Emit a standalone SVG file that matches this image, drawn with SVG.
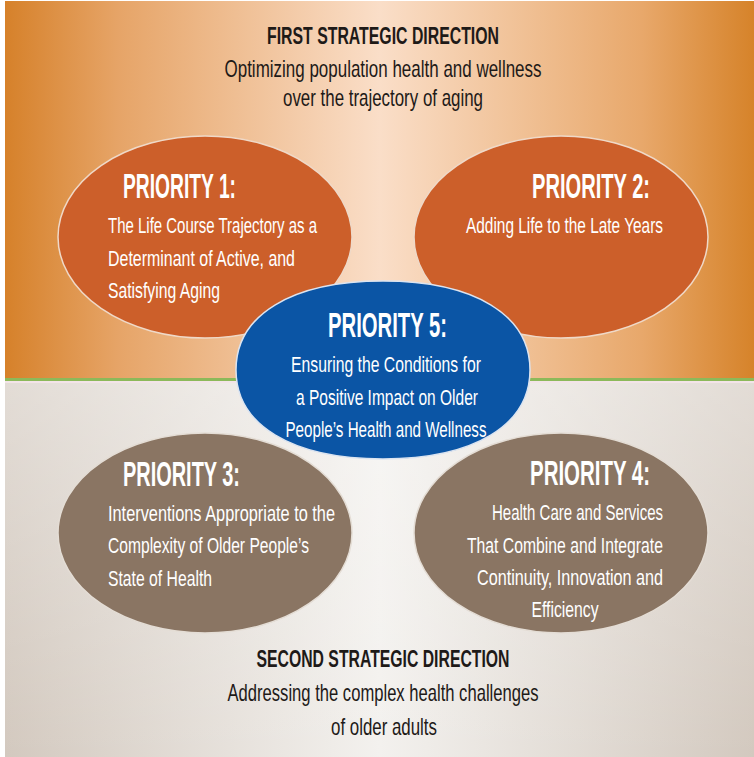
<svg xmlns="http://www.w3.org/2000/svg" width="754" height="757" viewBox="0 0 754 757">
<defs>
<linearGradient id="topG" x1="0" y1="0" x2="1" y2="0">
<stop offset="0" stop-color="#D6812A"/>
<stop offset="0.15" stop-color="#E6A467"/>
<stop offset="0.5" stop-color="#FADEC8"/>
<stop offset="0.85" stop-color="#E8A86B"/>
<stop offset="1" stop-color="#D6832A"/>
</linearGradient>
<linearGradient id="botG" x1="0" y1="0" x2="1" y2="0">
<stop offset="0" stop-color="#D3C9BF"/>
<stop offset="0.5" stop-color="#F3F1EE"/>
<stop offset="1" stop-color="#D3C9BF"/>
</linearGradient>
<linearGradient id="botV" x1="0" y1="0" x2="0" y2="1">
<stop offset="0" stop-color="#FFFFFF" stop-opacity="0.35"/>
<stop offset="1" stop-color="#FFFFFF" stop-opacity="0"/>
</linearGradient>
<style>
.hd{font-family:"Liberation Sans",Arial,sans-serif;font-weight:bold;font-size:23px;fill:#1E1A18}
.sub{font-family:"Liberation Sans",Arial,sans-serif;font-size:24px;fill:#1E1A18}
.ttl{font-family:"Liberation Sans",Arial,sans-serif;font-weight:bold;font-size:35px;fill:#FFFFFF}
.bd{font-family:"Liberation Sans",Arial,sans-serif;font-size:22.5px;fill:#FFFFFF}
.or{fill:#CC5F2A;stroke:#EFD9C8;stroke-width:1.5}
.bl{fill:#0B55A5;stroke:#DCE4F0;stroke-width:1.5}
.br{fill:#8A7563;stroke:#E4DDD5;stroke-width:1.5}
</style>
</defs>
<rect x="0" y="0" width="754" height="757" fill="#FFFFFF"/>
<rect x="5" y="1" width="749" height="378" fill="url(#topG)"/>
<rect x="5" y="383" width="749" height="374" fill="url(#botG)"/>
<rect x="5" y="383" width="749" height="374" fill="url(#botV)"/>
<rect x="5" y="378" width="749" height="3" fill="#8CB95A"/>
<rect x="5" y="381" width="749" height="2" fill="#F3E4E8"/>

<g id="direction1">
<text class="hd" x="383" y="44" text-anchor="middle" textLength="232" lengthAdjust="spacingAndGlyphs">FIRST STRATEGIC DIRECTION</text>
<text class="sub" x="383" y="77" text-anchor="middle" textLength="317" lengthAdjust="spacingAndGlyphs">Optimizing population health and wellness</text>
<text class="sub" x="383" y="106" text-anchor="middle" textLength="200" lengthAdjust="spacingAndGlyphs">over the trajectory of aging</text>
</g>

<g id="priority1">
<ellipse class="or" cx="205" cy="237" rx="147" ry="101"/>
<text class="ttl" x="123" y="198" textLength="113" lengthAdjust="spacingAndGlyphs">PRIORITY 1:</text>
<text class="bd" x="108" y="233" textLength="209" lengthAdjust="spacingAndGlyphs">The Life Course Trajectory as a</text>
<text class="bd" x="108" y="266" textLength="187" lengthAdjust="spacingAndGlyphs">Determinant of Active, and</text>
<text class="bd" x="108" y="298" textLength="112" lengthAdjust="spacingAndGlyphs">Satisfying Aging</text>
</g>

<g id="priority2">
<ellipse class="or" cx="561" cy="237" rx="147" ry="101"/>
<text class="ttl" x="532" y="198" textLength="118" lengthAdjust="spacingAndGlyphs">PRIORITY 2:</text>
<text class="bd" x="466" y="233" textLength="197" lengthAdjust="spacingAndGlyphs">Adding Life to the Late Years</text>
</g>

<g id="priority3">
<ellipse class="br" cx="205" cy="533" rx="147" ry="100"/>
<text class="ttl" x="123" y="486" textLength="117" lengthAdjust="spacingAndGlyphs">PRIORITY 3:</text>
<text class="bd" x="108" y="521" textLength="227" lengthAdjust="spacingAndGlyphs">Interventions Appropriate to the</text>
<text class="bd" x="108" y="553" textLength="201" lengthAdjust="spacingAndGlyphs">Complexity of Older People’s</text>
<text class="bd" x="108" y="586" textLength="104" lengthAdjust="spacingAndGlyphs">State of Health</text>
</g>

<g id="priority4">
<ellipse class="br" cx="561" cy="533" rx="147" ry="100"/>
<text class="ttl" x="530" y="485" textLength="120" lengthAdjust="spacingAndGlyphs">PRIORITY 4:</text>
<text class="bd" x="663" y="520" text-anchor="end" textLength="171" lengthAdjust="spacingAndGlyphs">Health Care and Services</text>
<text class="bd" x="663" y="553" text-anchor="end" textLength="196" lengthAdjust="spacingAndGlyphs">That Combine and Integrate</text>
<text class="bd" x="663" y="585" text-anchor="end" textLength="186" lengthAdjust="spacingAndGlyphs">Continuity, Innovation and</text>
<text class="bd" x="565" y="617" text-anchor="middle" textLength="67" lengthAdjust="spacingAndGlyphs">Efficiency</text>
</g>

<g id="priority5">
<path class="bl" d="M236,370 C236,314.8 291.9,281 383,281 C474.1,281 530,314.8 530,370 C530,425.2 474.1,459 383,459 C291.9,459 236,425.2 236,370 Z"/>
<text class="ttl" x="328" y="337" textLength="119" lengthAdjust="spacingAndGlyphs">PRIORITY 5:</text>
<text class="bd" x="386" y="372" text-anchor="middle" textLength="190" lengthAdjust="spacingAndGlyphs">Ensuring the Conditions for</text>
<text class="bd" x="387" y="405" text-anchor="middle" textLength="182" lengthAdjust="spacingAndGlyphs">a Positive Impact on Older</text>
<text class="bd" x="386" y="437" text-anchor="middle" textLength="201" lengthAdjust="spacingAndGlyphs">People’s Health and Wellness</text>
</g>

<g id="direction2">
<text class="hd" x="383" y="667" text-anchor="middle" textLength="253" lengthAdjust="spacingAndGlyphs">SECOND STRATEGIC DIRECTION</text>
<text class="sub" x="383" y="701" text-anchor="middle" textLength="311" lengthAdjust="spacingAndGlyphs">Addressing the complex health challenges</text>
<text class="sub" x="384" y="735" text-anchor="middle" textLength="106" lengthAdjust="spacingAndGlyphs">of older adults</text>
</g>
</svg>
